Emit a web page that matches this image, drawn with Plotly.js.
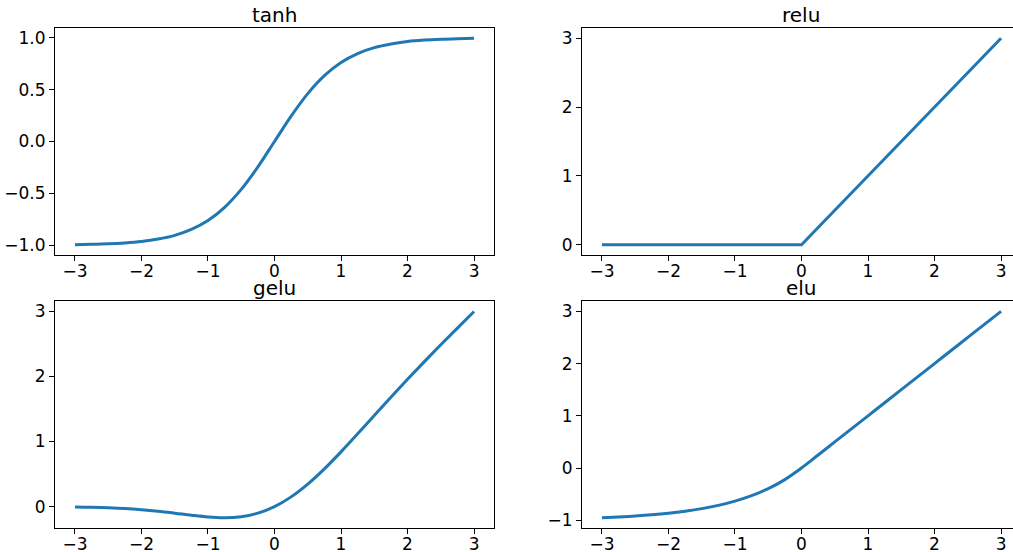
<!DOCTYPE html>
<html>
<head>
<meta charset="utf-8">
<script src="https://cdn.plot.ly/plotly-3.0.1.min.js"></script>
<style>
html,body{margin:0;padding:0;overflow:hidden;background:#fff;}
#chart{width:1030px;height:552px;}
</style>
</head>
<body>
<div id="chart"></div>
<script>
// sample positions
const xs = [-3, -2.75, -2.5, -2.25, -2, -1.75, -1.5, -1.25, -1, -0.75, -0.5, -0.25, 0,
            0.25, 0.5, 0.75, 1, 1.25, 1.5, 1.75, 2, 2.25, 2.5, 2.75, 3];

const tanhY = [-0.995, -0.992, -0.987, -0.978, -0.964, -0.941, -0.905, -0.848, -0.762, -0.635, -0.462, -0.245, 0,
               0.245, 0.462, 0.635, 0.762, 0.848, 0.905, 0.941, 0.964, 0.978, 0.987, 0.992, 0.995];

const reluY = [0, 0, 0, 0, 0, 0, 0, 0, 0, 0, 0, 0, 0,
               0.25, 0.5, 0.75, 1, 1.25, 1.5, 1.75, 2, 2.25, 2.5, 2.75, 3];

const geluY = [-0.004, -0.008, -0.016, -0.028, -0.046, -0.070, -0.100, -0.132, -0.159, -0.170, -0.154, -0.100, 0,
               0.150, 0.346, 0.580, 0.841, 1.118, 1.400, 1.680, 1.955, 2.223, 2.485, 2.742, 2.996];

const eluY = [-0.950, -0.936, -0.918, -0.895, -0.865, -0.826, -0.777, -0.714, -0.632, -0.528, -0.394, -0.221, 0,
              0.25, 0.5, 0.75, 1, 1.25, 1.5, 1.75, 2, 2.25, 2.5, 2.75, 3];

const titles = ["tanh", "relu", "gelu", "elu"];
const xTicks = [-3, -2, -1, 0, 1, 2, 3];
const tanhTicks = [-1.0, -0.5, 0.0, 0.5, 1.0];
const intTicks3 = [0, 1, 2, 3];
const eluTicks = [-1, 0, 1, 2, 3];

const W = 1030, H = 552;
const colL = [55 / W, 494 / W], colR = [582 / W, 1021 / W];
const rowT = [1 - 255 / H, 1 - 28 / H], rowB = [1 - 528 / H, 1 - 301 / H];

const lineStyle = {color: '#1f77b4', width: 3};
const traces = [
  {x: xs, y: tanhY, xaxis: 'x', yaxis: 'y', mode: 'lines', line: Object.assign({shape: 'spline', smoothing: 1}, lineStyle)},
  {x: xs, y: reluY, xaxis: 'x2', yaxis: 'y2', mode: 'lines', line: Object.assign({}, lineStyle)},
  {x: xs, y: geluY, xaxis: 'x3', yaxis: 'y3', mode: 'lines', line: Object.assign({shape: 'spline', smoothing: 1}, lineStyle)},
  {x: xs, y: eluY, xaxis: 'x4', yaxis: 'y4', mode: 'lines', line: Object.assign({shape: 'spline', smoothing: 1}, lineStyle)}
];

const font = {family: 'DejaVu Sans', size: 17, color: '#000'};
function ax(domain, anchor, range, tickvals, fmt, isX) {
  const a = {
    domain: domain, anchor: anchor, range: range,
    tickmode: 'array', tickvals: tickvals, tickformat: fmt,
    showgrid: false, zeroline: false,
    showline: true, mirror: true, linecolor: '#000', linewidth: 1,
    ticks: 'outside', ticklen: 5, tickwidth: 1, tickcolor: '#000',
    tickfont: font, fixedrange: true
  };
  if (isX) a.ticklabelstandoff = -4;
  return a;
}
const xr = [-3.3, 3.3];
const layout = {
  width: W, height: H,
  margin: {l: 0, r: 0, t: 0, b: 0},
  paper_bgcolor: '#fff', plot_bgcolor: '#fff',
  showlegend: false,
  font: font,
  xaxis: ax(colL, 'y', xr, xTicks, 'd', true),
  yaxis: ax(rowT, 'x', [-1.0946, 1.0946], tanhTicks, '.1f'),
  xaxis2: ax(colR, 'y2', xr, xTicks, 'd', true),
  yaxis2: ax(rowT, 'x2', [-0.15, 3.15], intTicks3, 'd'),
  xaxis3: ax(colL, 'y3', xr, xTicks, 'd', true),
  yaxis3: ax(rowB, 'x3', [-0.328, 3.158], intTicks3, 'd'),
  xaxis4: ax(colR, 'y4', xr, xTicks, 'd', true),
  yaxis4: ax(rowB, 'x4', [-1.1475, 3.1975], eluTicks, 'd'),
  annotations: [
    {text: titles[0], x: (colL[0] + colL[1]) / 2, y: rowT[1]},
    {text: titles[1], x: (colR[0] + colR[1]) / 2, y: rowT[1]},
    {text: titles[2], x: (colL[0] + colL[1]) / 2, y: rowB[1]},
    {text: titles[3], x: (colR[0] + colR[1]) / 2, y: rowB[1]}
  ].map(a => Object.assign(a, {
    xref: 'paper', yref: 'paper', xanchor: 'center', yanchor: 'bottom',
    showarrow: false, yshift: -1,
    font: {family: 'DejaVu Sans', size: 20, color: '#000'}
  }))
};
Plotly.newPlot('chart', traces, layout, {staticPlot: true, displayModeBar: false});
</script>
</body>
</html>
